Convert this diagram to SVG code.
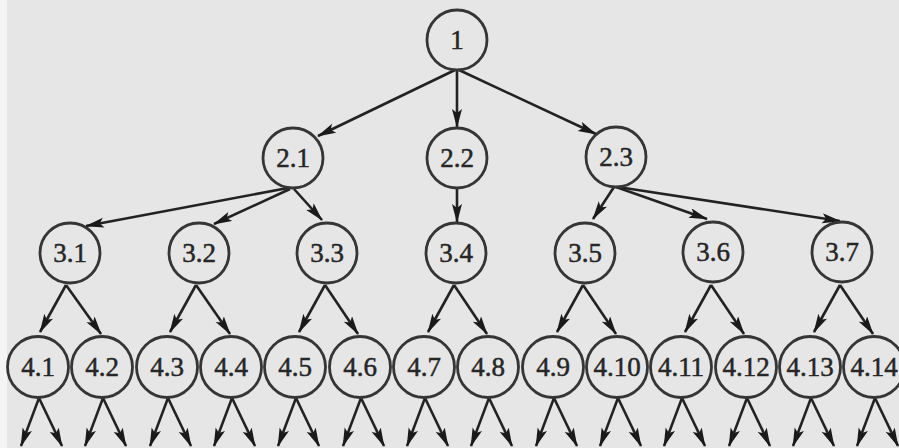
<svg xmlns="http://www.w3.org/2000/svg" width="899" height="448" viewBox="0 0 899 448">
<defs>
<marker id="ah" markerUnits="userSpaceOnUse" markerWidth="20" markerHeight="12" refX="18" refY="5" orient="auto">
<path d="M0,0 L19,5 L0,10 L4,5 z" fill="#1a1a1a"/>
</marker>
</defs>
<style>
.n circle{fill:none;stroke:#353535;stroke-width:2.8}
.n text{font-family:"Liberation Serif","Times New Roman",serif;font-size:27px;fill:#262626;stroke:#262626;stroke-width:0.5;text-anchor:middle}
#edges line{stroke:#222;stroke-width:2.6;marker-end:url(#ah)}
</style>
<rect width="899" height="448" fill="#e6e6e7"/>
<rect x="0" y="0" width="7" height="448" fill="#f4f4f4"/>
<g id="edges">
<line x1="455" y1="70" x2="318" y2="136"/>
<line x1="457" y1="70" x2="457" y2="127"/>
<line x1="459" y1="70" x2="596" y2="134"/>
<line x1="288" y1="188" x2="86" y2="226"/>
<line x1="290" y1="189" x2="214" y2="224"/>
<line x1="294" y1="189" x2="322" y2="220"/>
<line x1="457" y1="188" x2="457" y2="222"/>
<line x1="614" y1="187" x2="593" y2="219"/>
<line x1="616" y1="187" x2="707" y2="219"/>
<line x1="618" y1="187" x2="840" y2="221"/>
<line x1="66" y1="285" x2="40" y2="332"/>
<line x1="66" y1="285" x2="101" y2="334"/>
<line x1="196" y1="285" x2="170" y2="332"/>
<line x1="196" y1="285" x2="230" y2="334"/>
<line x1="325" y1="285" x2="299" y2="332"/>
<line x1="325" y1="285" x2="358" y2="334"/>
<line x1="454" y1="285" x2="428" y2="332"/>
<line x1="454" y1="285" x2="487" y2="334"/>
<line x1="583" y1="285" x2="557" y2="332"/>
<line x1="583" y1="285" x2="616" y2="334"/>
<line x1="711" y1="285" x2="685" y2="332"/>
<line x1="711" y1="285" x2="744" y2="334"/>
<line x1="840" y1="285" x2="814" y2="332"/>
<line x1="840" y1="285" x2="873" y2="334"/>
<line x1="39" y1="398" x2="21" y2="446"/><line x1="39" y1="398" x2="62" y2="446"/>
<line x1="103" y1="398" x2="85" y2="446"/><line x1="103" y1="398" x2="126" y2="446"/>
<line x1="168" y1="398" x2="150" y2="446"/><line x1="168" y1="398" x2="191" y2="446"/>
<line x1="232" y1="398" x2="214" y2="446"/><line x1="232" y1="398" x2="255" y2="446"/>
<line x1="296" y1="398" x2="278" y2="446"/><line x1="296" y1="398" x2="319" y2="446"/>
<line x1="361" y1="398" x2="343" y2="446"/><line x1="361" y1="398" x2="384" y2="446"/>
<line x1="425" y1="398" x2="407" y2="446"/><line x1="425" y1="398" x2="448" y2="446"/>
<line x1="489" y1="398" x2="471" y2="446"/><line x1="489" y1="398" x2="512" y2="446"/>
<line x1="554" y1="398" x2="536" y2="446"/><line x1="554" y1="398" x2="577" y2="446"/>
<line x1="618" y1="398" x2="600" y2="446"/><line x1="618" y1="398" x2="641" y2="446"/>
<line x1="682" y1="398" x2="664" y2="446"/><line x1="682" y1="398" x2="705" y2="446"/>
<line x1="747" y1="398" x2="729" y2="446"/><line x1="747" y1="398" x2="770" y2="446"/>
<line x1="811" y1="398" x2="793" y2="446"/><line x1="811" y1="398" x2="834" y2="446"/>
<line x1="875" y1="398" x2="857" y2="446"/><line x1="875" y1="398" x2="898" y2="446"/>
</g>
<g id="n1" class="n"><circle cx="457" cy="40" r="30"/><text x="457" y="49">1</text></g>
<g id="n2_1" class="n"><circle cx="293" cy="158" r="30"/><text x="293" y="167">2.1</text></g>
<g id="n2_2" class="n"><circle cx="457" cy="158" r="30"/><text x="457" y="167">2.2</text></g>
<g id="n2_3" class="n"><circle cx="616" cy="157" r="30"/><text x="616" y="166">2.3</text></g>
<g id="n3_1" class="n"><circle cx="70" cy="253" r="30"/><text x="70" y="262">3.1</text></g>
<g id="n3_2" class="n"><circle cx="199" cy="253" r="30"/><text x="199" y="262">3.2</text></g>
<g id="n3_3" class="n"><circle cx="327" cy="253" r="30"/><text x="327" y="262">3.3</text></g>
<g id="n3_4" class="n"><circle cx="456" cy="253" r="30"/><text x="456" y="262">3.4</text></g>
<g id="n3_5" class="n"><circle cx="585" cy="253" r="30"/><text x="585" y="262">3.5</text></g>
<g id="n3_6" class="n"><circle cx="713" cy="252" r="30"/><text x="713" y="261">3.6</text></g>
<g id="n3_7" class="n"><circle cx="842" cy="252" r="30"/><text x="842" y="261">3.7</text></g>
<g id="n4_1" class="n"><circle cx="38" cy="367" r="30.5"/><text x="38" y="376">4.1</text></g>
<g id="n4_2" class="n"><circle cx="102" cy="367" r="30.5"/><text x="102" y="376">4.2</text></g>
<g id="n4_3" class="n"><circle cx="167" cy="367" r="30.5"/><text x="167" y="376">4.3</text></g>
<g id="n4_4" class="n"><circle cx="231" cy="367" r="30.5"/><text x="231" y="376">4.4</text></g>
<g id="n4_5" class="n"><circle cx="295" cy="367" r="30.5"/><text x="295" y="376">4.5</text></g>
<g id="n4_6" class="n"><circle cx="360" cy="367" r="30.5"/><text x="360" y="376">4.6</text></g>
<g id="n4_7" class="n"><circle cx="424" cy="367" r="30.5"/><text x="424" y="376">4.7</text></g>
<g id="n4_8" class="n"><circle cx="488" cy="367" r="30.5"/><text x="488" y="376">4.8</text></g>
<g id="n4_9" class="n"><circle cx="553" cy="367" r="30.5"/><text x="553" y="376">4.9</text></g>
<g id="n4_10" class="n"><circle cx="617" cy="367" r="30.5"/><text x="617" y="376">4.10</text></g>
<g id="n4_11" class="n"><circle cx="681" cy="367" r="30.5"/><text x="681" y="376">4.11</text></g>
<g id="n4_12" class="n"><circle cx="746" cy="367" r="30.5"/><text x="746" y="376">4.12</text></g>
<g id="n4_13" class="n"><circle cx="810" cy="367" r="30.5"/><text x="810" y="376">4.13</text></g>
<g id="n4_14" class="n"><circle cx="874" cy="367" r="30.5"/><text x="874" y="376">4.14</text></g>
</svg>
